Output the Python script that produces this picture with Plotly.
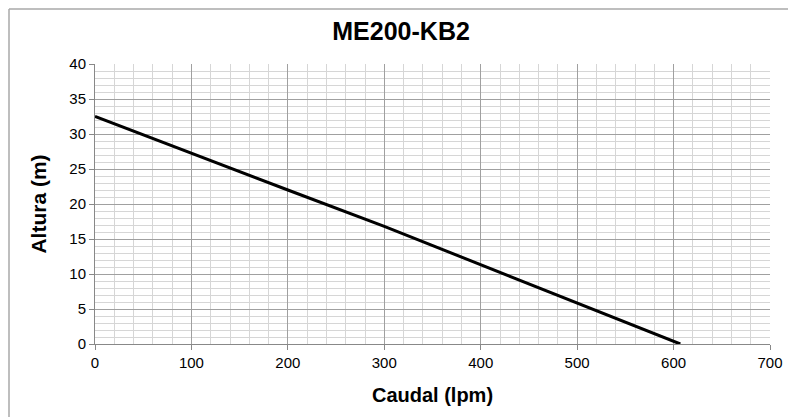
import plotly.graph_objects as go

caudal = [0, 100, 200, 300, 400, 500, 607]
altura = [32.5, 27.2, 22.0, 16.8, 11.3, 5.8, 0.0]

x_ticks = [0, 100, 200, 300, 400, 500, 600, 700]
y_ticks = [0, 5, 10, 15, 20, 25, 30, 35, 40]

fig = go.Figure()
fig.add_trace(go.Scatter(x=caudal, y=altura, mode="lines",
                         line=dict(color="black", width=3), showlegend=False))

font = "Liberation Sans, Arial, sans-serif"
fig.update_layout(
    width=788, height=417,
    margin=dict(l=95, r=18, t=64, b=73, autoexpand=False),
    paper_bgcolor="white", plot_bgcolor="white",
    title=dict(text="<b>ME200-KB2</b>", x=0.509, xanchor="center", y=0.926, yanchor="middle",
               font=dict(family=font, size=25, color="black")),
    xaxis=dict(range=[0, 700], tickvals=x_ticks, ticks="outside", ticklen=5, tickcolor="#888",
               showline=True, linecolor="#888", linewidth=1, automargin=False,
               gridcolor="#a0a0a0", gridwidth=1,
               minor=dict(dtick=20, showgrid=True, gridcolor="#d6d6d6", gridwidth=1),
               tickfont=dict(family=font, size=15, color="black"),
               title=dict(text="<b>Caudal (lpm)</b>", font=dict(family=font, size=20, color="black"), standoff=17),
               zeroline=False, mirror=False),
    yaxis=dict(range=[0, 40], tickvals=y_ticks, ticks="outside", ticklen=5, tickcolor="#888",
               showline=True, linecolor="#888", linewidth=1, automargin=False,
               gridcolor="#a0a0a0", gridwidth=1,
               minor=dict(dtick=1, showgrid=True, gridcolor="#d6d6d6", gridwidth=1),
               tickfont=dict(family=font, size=15, color="black"),
               title=dict(text="<b>Altura (m)</b>", font=dict(family=font, size=21, color="black"), standoff=16),
               zeroline=False),
)
# outer chart border (left and top edges visible)
fig.add_shape(type="line", xref="paper", yref="paper", x0=-86/675, x1=1.05, y0=1 + 55/280, y1=1 + 55/280,
              line=dict(color="#a8a8a8", width=1.5))
fig.add_shape(type="line", xref="paper", yref="paper", x0=-86/675, x1=-86/675, y0=-0.3, y1=1 + 55/280,
              line=dict(color="#a8a8a8", width=1.5))

fig.write_html("out.html", config={"displayModeBar": False},
               post_script="document.body.style.margin='0px';")
